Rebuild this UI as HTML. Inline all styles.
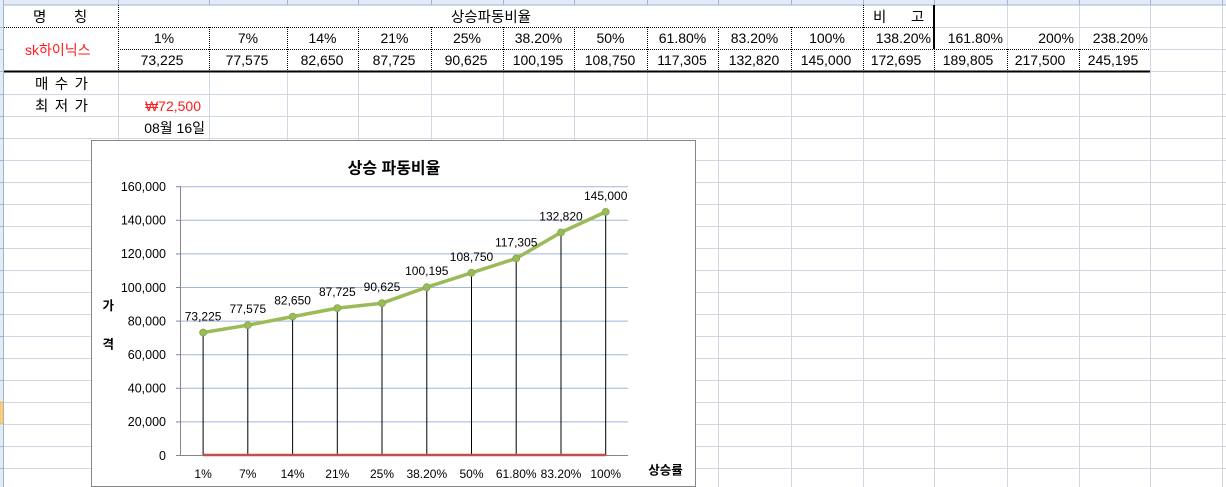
<!DOCTYPE html>
<html><head><meta charset="utf-8"><style>
html,body{margin:0;padding:0;background:#fff;width:1226px;height:487px;overflow:hidden}
svg{display:block}
text{font-family:"Liberation Sans","Noto Sans CJK KR",sans-serif}
</style></head><body>
<svg width="1226" height="487" viewBox="0 0 1226 487" xmlns="http://www.w3.org/2000/svg">
<rect x="0" y="0" width="1226" height="487" fill="#fff"/>
<!-- header bands -->
<rect x="0" y="0" width="1226" height="5" fill="#e3ebf6"/>
<line x1="0" y1="5" x2="1226" y2="5" stroke="#9eb6ce" stroke-width="1"/>
<rect x="0" y="0" width="3" height="487" fill="#e3ebf6"/>
<line x1="3.5" y1="0" x2="3.5" y2="487" stroke="#9eb6ce" stroke-width="1"/>
<rect x="0" y="402" width="3" height="22" fill="#f8d58f" stroke="#e9a23b" stroke-width="0.6"/>
<g stroke="#9eb6ce" stroke-width="1">
<line x1="118.5" y1="0" x2="118.5" y2="5"/><line x1="209.5" y1="0" x2="209.5" y2="5"/><line x1="287.5" y1="0" x2="287.5" y2="5"/><line x1="358.5" y1="0" x2="358.5" y2="5"/><line x1="431.5" y1="0" x2="431.5" y2="5"/><line x1="503.5" y1="0" x2="503.5" y2="5"/><line x1="574.5" y1="0" x2="574.5" y2="5"/><line x1="647.5" y1="0" x2="647.5" y2="5"/><line x1="718.5" y1="0" x2="718.5" y2="5"/><line x1="791.5" y1="0" x2="791.5" y2="5"/><line x1="863.5" y1="0" x2="863.5" y2="5"/><line x1="934.5" y1="0" x2="934.5" y2="5"/><line x1="1007.5" y1="0" x2="1007.5" y2="5"/><line x1="1079.5" y1="0" x2="1079.5" y2="5"/><line x1="1150.5" y1="0" x2="1150.5" y2="5"/><line x1="1222.5" y1="0" x2="1222.5" y2="5"/>
</g>
<!-- normal gridlines below row 3 -->
<g stroke="#d0d7e5" stroke-width="1">
<line x1="118.5" y1="72" x2="118.5" y2="487"/><line x1="209.5" y1="72" x2="209.5" y2="487"/><line x1="287.5" y1="72" x2="287.5" y2="487"/><line x1="358.5" y1="72" x2="358.5" y2="487"/><line x1="431.5" y1="72" x2="431.5" y2="487"/><line x1="503.5" y1="72" x2="503.5" y2="487"/><line x1="574.5" y1="72" x2="574.5" y2="487"/><line x1="647.5" y1="72" x2="647.5" y2="487"/><line x1="718.5" y1="72" x2="718.5" y2="487"/><line x1="791.5" y1="72" x2="791.5" y2="487"/><line x1="863.5" y1="72" x2="863.5" y2="487"/><line x1="934.5" y1="72" x2="934.5" y2="487"/><line x1="1007.5" y1="72" x2="1007.5" y2="487"/><line x1="1079.5" y1="72" x2="1079.5" y2="487"/>
<line x1="1150.5" y1="5" x2="1150.5" y2="487"/><line x1="1222.5" y1="5" x2="1222.5" y2="487"/>
<line x1="1007.5" y1="5" x2="1007.5" y2="49"/><line x1="1079.5" y1="5" x2="1079.5" y2="49"/>
<line x1="934" y1="27.5" x2="1226" y2="27.5"/>
<line x1="1150" y1="49.5" x2="1226" y2="49.5"/>
<line x1="1150" y1="71.5" x2="1226" y2="71.5"/>
<line x1="4" y1="94.5" x2="1226" y2="94.5"/><line x1="4" y1="116.5" x2="1226" y2="116.5"/><line x1="4" y1="138.5" x2="1226" y2="138.5"/><line x1="4" y1="160.5" x2="1226" y2="160.5"/><line x1="4" y1="182.5" x2="1226" y2="182.5"/><line x1="4" y1="204.5" x2="1226" y2="204.5"/><line x1="4" y1="226.5" x2="1226" y2="226.5"/><line x1="4" y1="248.5" x2="1226" y2="248.5"/><line x1="4" y1="270.5" x2="1226" y2="270.5"/><line x1="4" y1="292.5" x2="1226" y2="292.5"/><line x1="4" y1="314.5" x2="1226" y2="314.5"/><line x1="4" y1="336.5" x2="1226" y2="336.5"/><line x1="4" y1="358.5" x2="1226" y2="358.5"/><line x1="4" y1="380.5" x2="1226" y2="380.5"/><line x1="4" y1="402.5" x2="1226" y2="402.5"/><line x1="4" y1="424.5" x2="1226" y2="424.5"/><line x1="4" y1="446.5" x2="1226" y2="446.5"/><line x1="4" y1="468.5" x2="1226" y2="468.5"/>
</g>
<!-- row header separators -->
<g stroke="#9eb6ce" stroke-width="1">
<line x1="0" y1="27.5" x2="3" y2="27.5"/><line x1="0" y1="49.5" x2="3" y2="49.5"/><line x1="0" y1="71.5" x2="3" y2="71.5"/><line x1="0" y1="94.5" x2="3" y2="94.5"/><line x1="0" y1="116.5" x2="3" y2="116.5"/><line x1="0" y1="138.5" x2="3" y2="138.5"/><line x1="0" y1="160.5" x2="3" y2="160.5"/><line x1="0" y1="182.5" x2="3" y2="182.5"/><line x1="0" y1="204.5" x2="3" y2="204.5"/><line x1="0" y1="226.5" x2="3" y2="226.5"/><line x1="0" y1="248.5" x2="3" y2="248.5"/><line x1="0" y1="270.5" x2="3" y2="270.5"/><line x1="0" y1="292.5" x2="3" y2="292.5"/><line x1="0" y1="314.5" x2="3" y2="314.5"/><line x1="0" y1="336.5" x2="3" y2="336.5"/><line x1="0" y1="358.5" x2="3" y2="358.5"/><line x1="0" y1="380.5" x2="3" y2="380.5"/><line x1="0" y1="446.5" x2="3" y2="446.5"/><line x1="0" y1="468.5" x2="3" y2="468.5"/>
</g>
<!-- dotted borders of table -->
<g stroke="#000" stroke-width="1" stroke-dasharray="1,1">
<line x1="4" y1="27.5" x2="934" y2="27.5"/>
<line x1="118" y1="49.5" x2="1150" y2="49.5"/>
<line x1="118.5" y1="5" x2="118.5" y2="71"/>
<line x1="863.5" y1="5" x2="863.5" y2="71"/>
<line x1="209.5" y1="27" x2="209.5" y2="71"/><line x1="287.5" y1="27" x2="287.5" y2="71"/><line x1="358.5" y1="27" x2="358.5" y2="71"/><line x1="431.5" y1="27" x2="431.5" y2="71"/><line x1="503.5" y1="27" x2="503.5" y2="71"/><line x1="574.5" y1="27" x2="574.5" y2="71"/><line x1="647.5" y1="27" x2="647.5" y2="71"/><line x1="718.5" y1="27" x2="718.5" y2="71"/><line x1="791.5" y1="27" x2="791.5" y2="71"/>
<line x1="934.5" y1="49" x2="934.5" y2="71"/><line x1="1007.5" y1="49" x2="1007.5" y2="71"/><line x1="1079.5" y1="49" x2="1079.5" y2="71"/>
</g>
<rect x="4" y="70.5" width="1146" height="2" fill="#000"/>
<rect x="933" y="5" width="2" height="44" fill="#000"/>
<!-- table text -->
<g font-size="14.5" fill="#000">
<text x="33" y="22" letter-spacing="27.5">명칭</text>
<text x="491" y="22" text-anchor="middle">상승파동비율</text>
<text x="873" y="22" letter-spacing="24.5">비고</text>
<text x="25" y="55" fill="#ff1a1a" font-size="14">sk하이닉스</text>
<text x="35" y="89" letter-spacing="6.5">매수가</text>
<text x="35" y="111" letter-spacing="6.5">최저가</text>
</g>
<g font-size="14" fill="#000" text-anchor="middle">
<text x="164" y="43">1%</text><text x="248" y="43">7%</text><text x="322.5" y="43">14%</text><text x="394.5" y="43">21%</text><text x="467" y="43">25%</text><text x="538.5" y="43">38.20%</text><text x="610.5" y="43">50%</text><text x="682.5" y="43">61.80%</text><text x="754.5" y="43">83.20%</text><text x="827" y="43">100%</text>
<text x="162" y="65">73,225</text><text x="247" y="65">77,575</text><text x="322" y="65">82,650</text><text x="394" y="65">87,725</text><text x="466" y="65">90,625</text><text x="538" y="65">100,195</text><text x="610" y="65">108,750</text><text x="682" y="65">117,305</text><text x="754" y="65">132,820</text><text x="826" y="65">145,000</text>
<text x="896" y="65">172,695</text><text x="968" y="65">189,805</text><text x="1040" y="65">217,500</text><text x="1113" y="65">245,195</text>
</g>
<g font-size="14" fill="#000" text-anchor="end">
<text x="931" y="43">138.20%</text><text x="1003" y="43">161.80%</text><text x="1074" y="43">200%</text><text x="1148" y="43">238.20%</text>
<text x="201" y="111" fill="#ff1a1a">₩72,500</text>
<text x="205" y="133">08월 16일</text>
</g>
<!-- chart -->
<rect x="91.5" y="140.5" width="604" height="346" fill="#fff" stroke="#868686" stroke-width="1"/>
<text x="394" y="173.5" text-anchor="middle" font-size="16" font-weight="bold" fill="#000">상승 파동비율</text>
<g stroke="#a3b5dc" stroke-width="1">
<line x1="181" y1="186.7" x2="628" y2="186.7"/><line x1="181" y1="220.3" x2="628" y2="220.3"/><line x1="181" y1="253.9" x2="628" y2="253.9"/><line x1="181" y1="287.5" x2="628" y2="287.5"/><line x1="181" y1="321.1" x2="628" y2="321.1"/><line x1="181" y1="354.7" x2="628" y2="354.7"/><line x1="181" y1="388.3" x2="628" y2="388.3"/><line x1="181" y1="421.9" x2="628" y2="421.9"/>
</g>
<g stroke="#868686" stroke-width="1">
<line x1="180.5" y1="186.5" x2="180.5" y2="455.5"/>
<line x1="176" y1="455.5" x2="628" y2="455.5"/>
<line x1="176" y1="186.7" x2="181" y2="186.7"/><line x1="176" y1="220.3" x2="181" y2="220.3"/><line x1="176" y1="253.9" x2="181" y2="253.9"/><line x1="176" y1="287.5" x2="181" y2="287.5"/><line x1="176" y1="321.1" x2="181" y2="321.1"/><line x1="176" y1="354.7" x2="181" y2="354.7"/><line x1="176" y1="388.3" x2="181" y2="388.3"/><line x1="176" y1="421.9" x2="181" y2="421.9"/>
</g>
<g font-size="12.5" fill="#000" text-anchor="end">
<text x="166" y="191">160,000</text><text x="166" y="224.6">140,000</text><text x="166" y="258.2">120,000</text><text x="166" y="291.8">100,000</text><text x="166" y="325.4">80,000</text><text x="166" y="359">60,000</text><text x="166" y="392.6">40,000</text><text x="166" y="426.2">20,000</text><text x="166" y="459.8">0</text>
</g>
<text x="108.3" y="310" text-anchor="middle" font-size="12.5" font-weight="bold" fill="#000">가</text>
<text x="108.3" y="348.5" text-anchor="middle" font-size="12.5" font-weight="bold" fill="#000">격</text>
<text x="665.5" y="474.5" text-anchor="middle" font-size="12.5" font-weight="bold" fill="#000">상승률</text>
<!-- drop lines -->
<g stroke="#000" stroke-width="1">
<line x1="203.1" y1="332.5" x2="203.1" y2="455"/><line x1="247.8" y1="325.2" x2="247.8" y2="455"/><line x1="292.6" y1="316.6" x2="292.6" y2="455"/><line x1="337.3" y1="308.1" x2="337.3" y2="455"/><line x1="382" y1="303.2" x2="382" y2="455"/><line x1="426.8" y1="287.2" x2="426.8" y2="455"/><line x1="471.5" y1="272.8" x2="471.5" y2="455"/><line x1="516.2" y1="258.4" x2="516.2" y2="455"/><line x1="561" y1="232.4" x2="561" y2="455"/><line x1="605.7" y1="211.9" x2="605.7" y2="455"/>
</g>
<line x1="203.1" y1="455" x2="605.7" y2="455" stroke="#c0504d" stroke-width="2.5"/>
<polyline points="203.1,332.5 247.8,325.2 292.6,316.6 337.3,308.1 382,303.2 426.8,287.2 471.5,272.8 516.2,258.4 561,232.4 605.7,211.9" fill="none" stroke="#9bbb59" stroke-width="3.5" stroke-linejoin="round" stroke-linecap="round"/>
<g fill="#9bbb59" stroke="#86a84a" stroke-width="0.8">
<circle cx="203.1" cy="332.5" r="3.5"/><circle cx="247.8" cy="325.2" r="3.5"/><circle cx="292.6" cy="316.6" r="3.5"/><circle cx="337.3" cy="308.1" r="3.5"/><circle cx="382" cy="303.2" r="3.5"/><circle cx="426.8" cy="287.2" r="3.5"/><circle cx="471.5" cy="272.8" r="3.5"/><circle cx="516.2" cy="258.4" r="3.5"/><circle cx="561" cy="232.4" r="3.5"/><circle cx="605.7" cy="211.9" r="3.5"/>
</g>
<g font-size="12" fill="#000" text-anchor="middle">
<text x="203.1" y="320.5">73,225</text><text x="247.8" y="313.2">77,575</text><text x="292.6" y="304.6">82,650</text><text x="337.3" y="296.1">87,725</text><text x="382" y="291.2">90,625</text><text x="426.8" y="275.2">100,195</text><text x="471.5" y="260.8">108,750</text><text x="516.2" y="246.4">117,305</text><text x="561" y="220.4">132,820</text><text x="605.7" y="199.9">145,000</text>
</g>
<g font-size="12" fill="#000" text-anchor="middle">
<text x="203.1" y="478">1%</text><text x="247.8" y="478">7%</text><text x="292.6" y="478">14%</text><text x="337.3" y="478">21%</text><text x="382" y="478">25%</text><text x="426.8" y="478">38.20%</text><text x="471.5" y="478">50%</text><text x="516.2" y="478">61.80%</text><text x="561" y="478">83.20%</text><text x="605.7" y="478">100%</text>
</g>
</svg>
</body></html>
